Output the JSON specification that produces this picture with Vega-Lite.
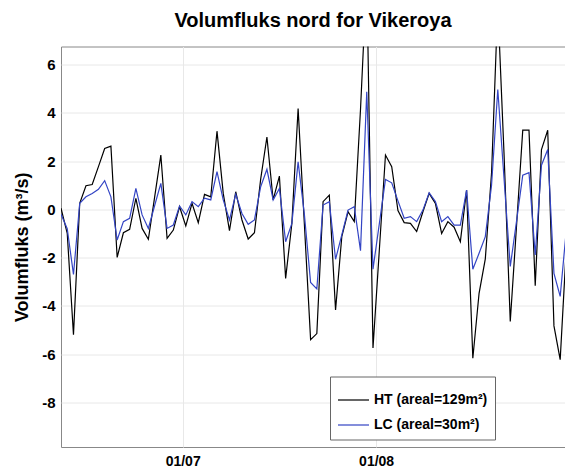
{
  "$schema": "https://vega.github.io/schema/vega-lite/v6.json",
  "autosize": {"type": "none"},
  "padding": {"left": 61, "top": 46.5, "right": 0, "bottom": 21},
  "width": 504,
  "height": 400.5,
  "background": "white",
  "title": {"text": "Volumfluks nord for Vikeroya", "font": "Liberation Sans", "fontSize": 20, "fontWeight": "bold", "anchor": "middle", "baseline": "alphabetic", "offset": 0, "color": "#000"},
  "config": {
    "view": {"stroke": "#888", "strokeWidth": 1},
    "axis": {"labelFont": "Liberation Sans", "titleFont": "Liberation Sans", "labelFontWeight": "bold", "titleFontWeight": "bold", "labelColor": "#000", "titleColor": "#000", "gridColor": "#e8e8e8", "domain": false, "ticks": false}
  },
  "data": {"values": [
    {"date": "2013-06-11T12:00:00", "s": "HT (areal=129m²)", "v": 0.05},
    {"date": "2013-06-12T12:00:00", "s": "HT (areal=129m²)", "v": -1.0},
    {"date": "2013-06-13T12:00:00", "s": "HT (areal=129m²)", "v": -5.2},
    {"date": "2013-06-14T12:00:00", "s": "HT (areal=129m²)", "v": 0.25},
    {"date": "2013-06-15T12:00:00", "s": "HT (areal=129m²)", "v": 0.98},
    {"date": "2013-06-16T12:00:00", "s": "HT (areal=129m²)", "v": 1.03},
    {"date": "2013-06-17T12:00:00", "s": "HT (areal=129m²)", "v": 1.77},
    {"date": "2013-06-18T12:00:00", "s": "HT (areal=129m²)", "v": 2.52},
    {"date": "2013-06-19T12:00:00", "s": "HT (areal=129m²)", "v": 2.62},
    {"date": "2013-06-20T12:00:00", "s": "HT (areal=129m²)", "v": -1.99},
    {"date": "2013-06-21T12:00:00", "s": "HT (areal=129m²)", "v": -0.97},
    {"date": "2013-06-22T12:00:00", "s": "HT (areal=129m²)", "v": -0.83},
    {"date": "2013-06-23T12:00:00", "s": "HT (areal=129m²)", "v": 0.46},
    {"date": "2013-06-24T12:00:00", "s": "HT (areal=129m²)", "v": -0.79},
    {"date": "2013-06-25T12:00:00", "s": "HT (areal=129m²)", "v": -1.24},
    {"date": "2013-06-26T12:00:00", "s": "HT (areal=129m²)", "v": 0.5},
    {"date": "2013-06-27T12:00:00", "s": "HT (areal=129m²)", "v": 2.25},
    {"date": "2013-06-28T12:00:00", "s": "HT (areal=129m²)", "v": -1.2},
    {"date": "2013-06-29T12:00:00", "s": "HT (areal=129m²)", "v": -0.86},
    {"date": "2013-06-30T12:00:00", "s": "HT (areal=129m²)", "v": 0.11},
    {"date": "2013-07-01T12:00:00", "s": "HT (areal=129m²)", "v": -0.69},
    {"date": "2013-07-02T12:00:00", "s": "HT (areal=129m²)", "v": 0.25},
    {"date": "2013-07-03T12:00:00", "s": "HT (areal=129m²)", "v": -0.55},
    {"date": "2013-07-04T12:00:00", "s": "HT (areal=129m²)", "v": 0.62},
    {"date": "2013-07-05T12:00:00", "s": "HT (areal=129m²)", "v": 0.52},
    {"date": "2013-07-06T12:00:00", "s": "HT (areal=129m²)", "v": 3.24},
    {"date": "2013-07-07T12:00:00", "s": "HT (areal=129m²)", "v": 0.66},
    {"date": "2013-07-08T12:00:00", "s": "HT (areal=129m²)", "v": -0.88},
    {"date": "2013-07-09T12:00:00", "s": "HT (areal=129m²)", "v": 0.73},
    {"date": "2013-07-10T12:00:00", "s": "HT (areal=129m²)", "v": -0.44},
    {"date": "2013-07-11T12:00:00", "s": "HT (areal=129m²)", "v": -1.23},
    {"date": "2013-07-12T12:00:00", "s": "HT (areal=129m²)", "v": -0.97},
    {"date": "2013-07-13T12:00:00", "s": "HT (areal=129m²)", "v": 1.25},
    {"date": "2013-07-14T12:00:00", "s": "HT (areal=129m²)", "v": 3.0},
    {"date": "2013-07-15T12:00:00", "s": "HT (areal=129m²)", "v": 0.39},
    {"date": "2013-07-16T12:00:00", "s": "HT (areal=129m²)", "v": 1.38},
    {"date": "2013-07-17T12:00:00", "s": "HT (areal=129m²)", "v": -2.86},
    {"date": "2013-07-18T12:00:00", "s": "HT (areal=129m²)", "v": -0.58},
    {"date": "2013-07-19T12:00:00", "s": "HT (areal=129m²)", "v": 4.18},
    {"date": "2013-07-20T12:00:00", "s": "HT (areal=129m²)", "v": -0.6},
    {"date": "2013-07-21T12:00:00", "s": "HT (areal=129m²)", "v": -5.4},
    {"date": "2013-07-22T12:00:00", "s": "HT (areal=129m²)", "v": -5.15},
    {"date": "2013-07-23T12:00:00", "s": "HT (areal=129m²)", "v": 0.32},
    {"date": "2013-07-24T12:00:00", "s": "HT (areal=129m²)", "v": 0.59},
    {"date": "2013-07-25T12:00:00", "s": "HT (areal=129m²)", "v": -4.17},
    {"date": "2013-07-26T12:00:00", "s": "HT (areal=129m²)", "v": -1.13},
    {"date": "2013-07-27T12:00:00", "s": "HT (areal=129m²)", "v": -0.1},
    {"date": "2013-07-28T12:00:00", "s": "HT (areal=129m²)", "v": -0.51},
    {"date": "2013-07-29T12:00:00", "s": "HT (areal=129m²)", "v": 4.15},
    {"date": "2013-07-30T12:00:00", "s": "HT (areal=129m²)", "v": 9.7},
    {"date": "2013-07-31T12:00:00", "s": "HT (areal=129m²)", "v": -5.75},
    {"date": "2013-08-01T12:00:00", "s": "HT (areal=129m²)", "v": -1.75},
    {"date": "2013-08-02T12:00:00", "s": "HT (areal=129m²)", "v": 2.25},
    {"date": "2013-08-03T12:00:00", "s": "HT (areal=129m²)", "v": 1.77},
    {"date": "2013-08-04T12:00:00", "s": "HT (areal=129m²)", "v": -0.05},
    {"date": "2013-08-05T12:00:00", "s": "HT (areal=129m²)", "v": -0.55},
    {"date": "2013-08-06T12:00:00", "s": "HT (areal=129m²)", "v": -0.58},
    {"date": "2013-08-07T12:00:00", "s": "HT (areal=129m²)", "v": -0.92},
    {"date": "2013-08-08T12:00:00", "s": "HT (areal=129m²)", "v": -0.1},
    {"date": "2013-08-09T12:00:00", "s": "HT (areal=129m²)", "v": 0.66},
    {"date": "2013-08-10T12:00:00", "s": "HT (areal=129m²)", "v": 0.25},
    {"date": "2013-08-11T12:00:00", "s": "HT (areal=129m²)", "v": -1.0},
    {"date": "2013-08-12T12:00:00", "s": "HT (areal=129m²)", "v": -0.51},
    {"date": "2013-08-13T12:00:00", "s": "HT (areal=129m²)", "v": -0.74},
    {"date": "2013-08-14T12:00:00", "s": "HT (areal=129m²)", "v": -1.34},
    {"date": "2013-08-15T12:00:00", "s": "HT (areal=129m²)", "v": 0.8},
    {"date": "2013-08-16T12:00:00", "s": "HT (areal=129m²)", "v": -6.17},
    {"date": "2013-08-17T12:00:00", "s": "HT (areal=129m²)", "v": -3.48},
    {"date": "2013-08-18T12:00:00", "s": "HT (areal=129m²)", "v": -2.05},
    {"date": "2013-08-19T12:00:00", "s": "HT (areal=129m²)", "v": 1.5},
    {"date": "2013-08-20T12:00:00", "s": "HT (areal=129m²)", "v": 8.5},
    {"date": "2013-08-21T12:00:00", "s": "HT (areal=129m²)", "v": 2.3},
    {"date": "2013-08-22T12:00:00", "s": "HT (areal=129m²)", "v": -4.65},
    {"date": "2013-08-23T12:00:00", "s": "HT (areal=129m²)", "v": -0.7},
    {"date": "2013-08-24T12:00:00", "s": "HT (areal=129m²)", "v": 3.28},
    {"date": "2013-08-25T12:00:00", "s": "HT (areal=129m²)", "v": 3.28},
    {"date": "2013-08-26T12:00:00", "s": "HT (areal=129m²)", "v": -3.17},
    {"date": "2013-08-27T12:00:00", "s": "HT (areal=129m²)", "v": 2.48},
    {"date": "2013-08-28T12:00:00", "s": "HT (areal=129m²)", "v": 3.28},
    {"date": "2013-08-29T12:00:00", "s": "HT (areal=129m²)", "v": -4.83},
    {"date": "2013-08-30T12:00:00", "s": "HT (areal=129m²)", "v": -6.23},
    {"date": "2013-08-31T12:00:00", "s": "HT (areal=129m²)", "v": -1.5},
    {"date": "2013-06-11T12:00:00", "s": "LC (areal=30m²)", "v": -0.2},
    {"date": "2013-06-12T12:00:00", "s": "LC (areal=30m²)", "v": -0.8},
    {"date": "2013-06-13T12:00:00", "s": "LC (areal=30m²)", "v": -2.7},
    {"date": "2013-06-14T12:00:00", "s": "LC (areal=30m²)", "v": 0.25},
    {"date": "2013-06-15T12:00:00", "s": "LC (areal=30m²)", "v": 0.52},
    {"date": "2013-06-16T12:00:00", "s": "LC (areal=30m²)", "v": 0.66},
    {"date": "2013-06-17T12:00:00", "s": "LC (areal=30m²)", "v": 0.83},
    {"date": "2013-06-18T12:00:00", "s": "LC (areal=30m²)", "v": 1.19},
    {"date": "2013-06-19T12:00:00", "s": "LC (areal=30m²)", "v": 0.52},
    {"date": "2013-06-20T12:00:00", "s": "LC (areal=30m²)", "v": -1.27},
    {"date": "2013-06-21T12:00:00", "s": "LC (areal=30m²)", "v": -0.51},
    {"date": "2013-06-22T12:00:00", "s": "LC (areal=30m²)", "v": -0.37},
    {"date": "2013-06-23T12:00:00", "s": "LC (areal=30m²)", "v": 0.87},
    {"date": "2013-06-24T12:00:00", "s": "LC (areal=30m²)", "v": -0.23},
    {"date": "2013-06-25T12:00:00", "s": "LC (areal=30m²)", "v": -0.79},
    {"date": "2013-06-26T12:00:00", "s": "LC (areal=30m²)", "v": 0.15},
    {"date": "2013-06-27T12:00:00", "s": "LC (areal=30m²)", "v": 1.08},
    {"date": "2013-06-28T12:00:00", "s": "LC (areal=30m²)", "v": -0.79},
    {"date": "2013-06-29T12:00:00", "s": "LC (areal=30m²)", "v": -0.65},
    {"date": "2013-06-30T12:00:00", "s": "LC (areal=30m²)", "v": 0.14},
    {"date": "2013-07-01T12:00:00", "s": "LC (areal=30m²)", "v": -0.23},
    {"date": "2013-07-02T12:00:00", "s": "LC (areal=30m²)", "v": 0.32},
    {"date": "2013-07-03T12:00:00", "s": "LC (areal=30m²)", "v": 0.11},
    {"date": "2013-07-04T12:00:00", "s": "LC (areal=30m²)", "v": 0.46},
    {"date": "2013-07-05T12:00:00", "s": "LC (areal=30m²)", "v": 0.39},
    {"date": "2013-07-06T12:00:00", "s": "LC (areal=30m²)", "v": 1.56},
    {"date": "2013-07-07T12:00:00", "s": "LC (areal=30m²)", "v": 0.39},
    {"date": "2013-07-08T12:00:00", "s": "LC (areal=30m²)", "v": -0.44},
    {"date": "2013-07-09T12:00:00", "s": "LC (areal=30m²)", "v": 0.63},
    {"date": "2013-07-10T12:00:00", "s": "LC (areal=30m²)", "v": -0.17},
    {"date": "2013-07-11T12:00:00", "s": "LC (areal=30m²)", "v": -0.62},
    {"date": "2013-07-12T12:00:00", "s": "LC (areal=30m²)", "v": -0.44},
    {"date": "2013-07-13T12:00:00", "s": "LC (areal=30m²)", "v": 0.94},
    {"date": "2013-07-14T12:00:00", "s": "LC (areal=30m²)", "v": 1.66},
    {"date": "2013-07-15T12:00:00", "s": "LC (areal=30m²)", "v": 0.39},
    {"date": "2013-07-16T12:00:00", "s": "LC (areal=30m²)", "v": 0.87},
    {"date": "2013-07-17T12:00:00", "s": "LC (areal=30m²)", "v": -1.34},
    {"date": "2013-07-18T12:00:00", "s": "LC (areal=30m²)", "v": -0.58},
    {"date": "2013-07-19T12:00:00", "s": "LC (areal=30m²)", "v": 1.97},
    {"date": "2013-07-20T12:00:00", "s": "LC (areal=30m²)", "v": -0.2},
    {"date": "2013-07-21T12:00:00", "s": "LC (areal=30m²)", "v": -3.03},
    {"date": "2013-07-22T12:00:00", "s": "LC (areal=30m²)", "v": -3.3},
    {"date": "2013-07-23T12:00:00", "s": "LC (areal=30m²)", "v": 0.18},
    {"date": "2013-07-24T12:00:00", "s": "LC (areal=30m²)", "v": 0.32},
    {"date": "2013-07-25T12:00:00", "s": "LC (areal=30m²)", "v": -2.07},
    {"date": "2013-07-26T12:00:00", "s": "LC (areal=30m²)", "v": -1.06},
    {"date": "2013-07-27T12:00:00", "s": "LC (areal=30m²)", "v": -0.03},
    {"date": "2013-07-28T12:00:00", "s": "LC (areal=30m²)", "v": 0.11},
    {"date": "2013-07-29T12:00:00", "s": "LC (areal=30m²)", "v": -1.71},
    {"date": "2013-07-30T12:00:00", "s": "LC (areal=30m²)", "v": 4.87},
    {"date": "2013-07-31T12:00:00", "s": "LC (areal=30m²)", "v": -2.48},
    {"date": "2013-08-01T12:00:00", "s": "LC (areal=30m²)", "v": -0.62},
    {"date": "2013-08-02T12:00:00", "s": "LC (areal=30m²)", "v": 1.24},
    {"date": "2013-08-03T12:00:00", "s": "LC (areal=30m²)", "v": 1.1},
    {"date": "2013-08-04T12:00:00", "s": "LC (areal=30m²)", "v": 0.35},
    {"date": "2013-08-05T12:00:00", "s": "LC (areal=30m²)", "v": -0.37},
    {"date": "2013-08-06T12:00:00", "s": "LC (areal=30m²)", "v": -0.3},
    {"date": "2013-08-07T12:00:00", "s": "LC (areal=30m²)", "v": -0.51},
    {"date": "2013-08-08T12:00:00", "s": "LC (areal=30m²)", "v": -0.03},
    {"date": "2013-08-09T12:00:00", "s": "LC (areal=30m²)", "v": 0.69},
    {"date": "2013-08-10T12:00:00", "s": "LC (areal=30m²)", "v": 0.32},
    {"date": "2013-08-11T12:00:00", "s": "LC (areal=30m²)", "v": -0.51},
    {"date": "2013-08-12T12:00:00", "s": "LC (areal=30m²)", "v": -0.3},
    {"date": "2013-08-13T12:00:00", "s": "LC (areal=30m²)", "v": -0.65},
    {"date": "2013-08-14T12:00:00", "s": "LC (areal=30m²)", "v": -0.65},
    {"date": "2013-08-15T12:00:00", "s": "LC (areal=30m²)", "v": 0.8},
    {"date": "2013-08-16T12:00:00", "s": "LC (areal=30m²)", "v": -2.48},
    {"date": "2013-08-17T12:00:00", "s": "LC (areal=30m²)", "v": -1.82},
    {"date": "2013-08-18T12:00:00", "s": "LC (areal=30m²)", "v": -1.13},
    {"date": "2013-08-19T12:00:00", "s": "LC (areal=30m²)", "v": 1.0},
    {"date": "2013-08-20T12:00:00", "s": "LC (areal=30m²)", "v": 4.97},
    {"date": "2013-08-21T12:00:00", "s": "LC (areal=30m²)", "v": 1.28},
    {"date": "2013-08-22T12:00:00", "s": "LC (areal=30m²)", "v": -2.37},
    {"date": "2013-08-23T12:00:00", "s": "LC (areal=30m²)", "v": -0.5},
    {"date": "2013-08-24T12:00:00", "s": "LC (areal=30m²)", "v": 1.42},
    {"date": "2013-08-25T12:00:00", "s": "LC (areal=30m²)", "v": 1.52},
    {"date": "2013-08-26T12:00:00", "s": "LC (areal=30m²)", "v": -1.89},
    {"date": "2013-08-27T12:00:00", "s": "LC (areal=30m²)", "v": 1.83},
    {"date": "2013-08-28T12:00:00", "s": "LC (areal=30m²)", "v": 2.48},
    {"date": "2013-08-29T12:00:00", "s": "LC (areal=30m²)", "v": -2.65},
    {"date": "2013-08-30T12:00:00", "s": "LC (areal=30m²)", "v": -3.61},
    {"date": "2013-08-31T12:00:00", "s": "LC (areal=30m²)", "v": -0.8}
  ]},
  "mark": {"type": "line", "clip": true, "strokeWidth": 1.2},
  "encoding": {
    "x": {
      "field": "date", "type": "temporal",
      "scale": {"domain": [{"year": 2013, "month": 6, "date": 11, "hours": 12}, {"year": 2013, "month": 8, "date": 31, "hours": 6, "minutes": 30}]},
      "axis": {"title": null, "format": "%d/%m", "values": [{"year": 2013, "month": 7, "date": 1}, {"year": 2013, "month": 8, "date": 1}], "labelFontSize": 14, "labelPadding": 7, "grid": true}
    },
    "y": {
      "field": "v", "type": "quantitative",
      "scale": {"domain": [-9.85, 6.75], "nice": false, "zero": false},
      "axis": {"title": "Volumfluks (m³/s)", "values": [-8, -6, -4, -2, 0, 2, 4, 6], "labelExpr": "replace(datum.label, '−', '-')", "labelFontSize": 15, "labelPadding": 6, "titleFontSize": 18, "titlePadding": 10, "grid": true}
    },
    "color": {
      "field": "s", "type": "nominal",
      "scale": {"domain": ["HT (areal=129m²)", "LC (areal=30m²)"], "range": ["#000000", "#3344c4"]},
      "legend": {"title": null, "orient": "none", "legendX": 269, "legendY": 330, "symbolType": "stroke", "symbolSize": 961, "symbolStrokeWidth": 1.2, "labelFont": "Liberation Sans", "labelFontWeight": "bold", "labelFontSize": 14, "labelColor": "#000", "labelOffset": 4, "strokeColor": "#666", "fillColor": "white", "padding": 7, "rowPadding": 1}
    }
  }
}
